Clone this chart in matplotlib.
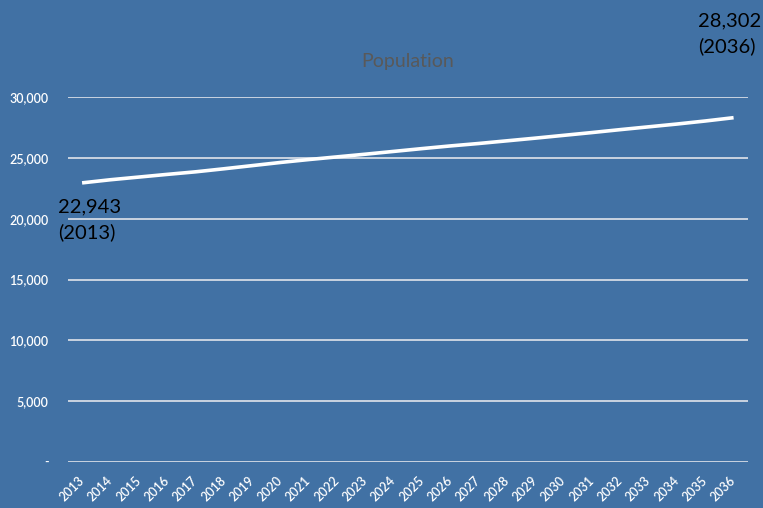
import numpy as np
import matplotlib.pyplot as plt
from matplotlib.ticker import FuncFormatter

years = list(range(2013, 2037))
population = [22943, 23200, 23420, 23640, 23850, 24100, 24360, 24620,
              24860, 25080, 25300, 25530, 25760, 25980, 26180, 26400,
              26620, 26850, 27080, 27320, 27550, 27780, 28030, 28302]
y_ticks = [0, 5000, 10000, 15000, 20000, 25000, 30000]

bg = '#4171a4'
plt.rcParams['font.family'] = ['Lato', 'DejaVu Sans']

fig = plt.figure(figsize=(7.63, 5.08), dpi=100, facecolor=bg)
ax = fig.add_axes([0.089, 0.0906, 0.891, 0.7184], facecolor=bg)

x = np.arange(len(years))
ax.plot(x, population, color='white', lw=2.6, solid_capstyle='butt')

ax.set_xlim(-0.5, len(years) - 0.5)
ax.set_ylim(0, 30000)
ax.set_yticks(y_ticks)
ax.yaxis.set_major_formatter(FuncFormatter(lambda v, p: '-' if v == 0 else f'{int(v):,}'))
ax.set_xticks(x)
ax.set_xticklabels([str(y) for y in years], rotation=45, ha='right', va='center',
                   rotation_mode='anchor', fontsize=9, color='white',
                   fontweight='semibold')
ax.tick_params(axis='y', colors='white', labelsize=9, length=0, pad=14)
ax.tick_params(axis='x', length=0, pad=12)
for lab in ax.get_yticklabels():
    lab.set_fontweight('semibold')
ax.grid(axis='y', color='#c9d3e0', lw=1.4)
ax.set_axisbelow(True)
for s in ax.spines.values():
    s.set_visible(False)

ax.set_title('Population', color='#595959', fontsize=14, pad=21.5)

ax.annotate(f'{population[0]:,}\n({years[0]})', xy=(x[0], population[0]),
            xytext=(-17.5, -11.5), textcoords='offset points', ha='left', va='top',
            fontsize=14.5, color='black', linespacing=1.5, annotation_clip=False)
ax.annotate(f'{population[-1]:,}\n({years[-1]})', xy=(x[-1], population[-1]),
            xytext=(-25.5, 75.5), textcoords='offset points', ha='left', va='top',
            fontsize=14.5, color='black', linespacing=1.5, annotation_clip=False)

fig.savefig('out.png', dpi=100, facecolor=bg)
